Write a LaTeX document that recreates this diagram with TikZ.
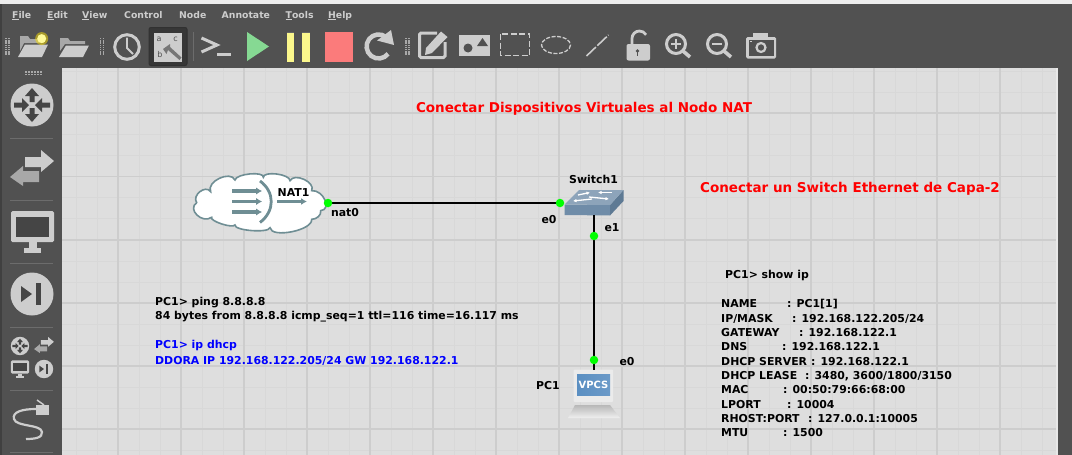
\documentclass[tikz,border=0pt]{standalone}
\usepackage{fontspec}
\setmainfont{DejaVu Sans}
\usetikzlibrary{arrows.meta}
\definecolor{panel}{HTML}{515151}
\definecolor{canvasbg}{HTML}{DEDEDE}
\definecolor{gridminor}{HTML}{D8D8D8}
\definecolor{gridmajor}{HTML}{CDCDCD}
\definecolor{icon}{HTML}{CDCDCD}
\definecolor{icondark}{HTML}{A8A8A8}
\definecolor{cloudline}{HTML}{6F8E94}
\definecolor{swtop}{HTML}{8DA4BA}
\definecolor{swfront}{HTML}{6F8CA8}
\definecolor{swside}{HTML}{5E7A94}
\definecolor{pcblue}{HTML}{5B8FC2}
\definecolor{playgreen}{HTML}{86D993}
\definecolor{pauseyellow}{HTML}{FBF78C}
\definecolor{stopred}{HTML}{FB7B7B}
\newcommand{\infoline}[3]{\makebox[#2pt][l]{#1}: #3}
\begin{document}
\begin{tikzpicture}
    [
        x=1pt, y=-1pt,
        menu/.style = {anchor=west, text=icon, font=\bfseries\fontsize{9.3}{10}\selectfont, inner sep=0pt},
        title/.style = {text=red, font=\bfseries\fontsize{13.5}{15}\selectfont, inner sep=0pt},
        note/.style = {anchor=north west, align=left, inner sep=0pt, font=\bfseries\fontsize{10.9}{14.3}\selectfont},
        lbl/.style = {inner sep=0pt, font=\bfseries\fontsize{10.9}{12}\selectfont},
        port/.style = {circle, fill=green, draw=none, minimum size=8.5pt, inner sep=0pt},
        link/.style = {line width=1.6pt, black},
        sep/.style = {draw=gray!85!black, line width=0.7pt},
        iconline/.style = {draw=icon, line width=3pt},
        dashicon/.style = {draw=icon, line width=1.6pt, dash pattern=on 6pt off 2.5pt},
        routerpic/.pic = {
            \fill[icon] (0,0) circle (21.5);
            \fill[panel!85!black] (0,-17) -- (7,-9) -- (2.5,-9) -- (2.5,-3) -- (-2.5,-3) -- (-2.5,-9) -- (-7,-9) -- cycle;
            \fill[panel!85!black] (0,17) -- (7,9) -- (2.5,9) -- (2.5,3) -- (-2.5,3) -- (-2.5,9) -- (-7,9) -- cycle;
            \fill[panel!85!black] (-3,0) -- (-10,-7) -- (-10,-2.5) -- (-18,-2.5) -- (-18,2.5) -- (-10,2.5) -- (-10,7) -- cycle;
            \fill[panel!85!black] (3,0) -- (10,-7) -- (10,-2.5) -- (18,-2.5) -- (18,2.5) -- (10,2.5) -- (10,7) -- cycle;
        },
        swappic/.pic = {
            \fill[icon] (-7,-11) -- (9,-11) -- (9,-18) -- (22,-7) -- (9,4) -- (9,-1) -- (-7,-1) -- cycle;
            \fill[icondark] (-22,9) -- (-9,-2) -- (-9,3) -- (7,3) -- (7,14) -- (-9,14) -- (-9,18) -- cycle;
        },
        monitorpic/.pic = {
            \fill[icon, rounded corners=1.5pt] (-21.5,-18) rectangle (21.5,13);
            \fill[panel!85!black] (-16.5,-12) rectangle (16.5,8);
            \fill[icon] (-4,13) rectangle (4,19);
            \fill[icon] (-8.5,19) rectangle (8.5,24);
        },
        steppic/.pic = {
            \fill[icon] (0,0) circle (21.5);
            \fill[panel!85!black] (-11,-8) -- (0,0) -- (-11,8) -- cycle;
            \fill[panel!85!black] (4,-11) rectangle (9,11);
        },
    ]

    \useasboundingbox (0,0) rectangle (1072,455);

    % window
    \fill[panel] (0,0) rectangle (1072,455);
    \fill[black!75] (0,0) rectangle (2,455);
    \fill[white!93!black] (0,0) rectangle (1072,4);
    \fill[canvasbg] (62,68) rectangle (1056,455);
    \fill[gridminor!60!white] (1056,68) rectangle (1058,455);

    % grid
    \foreach \gx in {76,97,139,160,202,223,265,286,328,349,391,412,454,475,517,538,580,601,643,664,706,727,769,790,832,853,895,916,958,979,1021,1042}
        \draw[gridminor, line width=0.8pt] (\gx,68) -- (\gx,455);
    \foreach \gy in {71,92,134,155,197,218,261,282,324,345,387,408,450}
        \draw[gridminor, line width=0.8pt] (62,\gy) -- (1056,\gy);
    \foreach \gx in {118,181,244,307,370,433,496,559,622,685,748,811,874,937,1000}
        \draw[gridmajor, line width=1.1pt] (\gx,68) -- (\gx,455);
    \foreach \gy in {113,176.5,240,303,366,429}
        \draw[gridmajor, line width=1.1pt] (62,\gy) -- (1056,\gy);

    % menu
    \node[menu] (mfile) at (12,15.5) {\underline{F}ile};
    \node[menu] (medit) at (47,15.5) {\underline{E}dit};
    \node[menu] (mview) at (82,15.5) {\underline{V}iew};
    \node[menu] (mcontrol) at (124,15.5) {Control};
    \node[menu] (mnode) at (179,15.5) {Node};
    \node[menu] (mannotate) at (221.5,15.5) {Annotate};
    \node[menu] (mtools) at (285.5,15.5) {\underline{T}ools};
    \node[menu] (mhelp) at (328,15.5) {\underline{H}elp};

    % toolbar
    \foreach \gripx in {5,99.5,405}
        \foreach \i in {0,1}
            \foreach \j in {0,1,2,3,4,5,6,7}
                \fill[icondark] (\gripx+\i*3,38+\j*2.2) rectangle +(1.6,1.4);
    \foreach \i in {0,...,5}
        \foreach \j in {0,1}
            \fill[icondark] (25+\i*3,71+\j*2.5) rectangle +(1.8,1.6);

    \fill[icondark] (20,51) -- (20,36) -- (28,36) -- (30,39) -- (44,39) -- (44,43) -- (24,43) -- cycle;
    \fill[icon] (25,44.5) -- (48,44.5) -- (42,57) -- (18,57) -- cycle;
    \fill[yellow!85!orange, opacity=.5] (41.7,38.6) circle (6.5);
    \fill[yellow!40!white] (41.7,38.6) circle (4.5);
    \fill[icondark] (60,51) -- (60,38) -- (68,38) -- (70,41) -- (85,41) -- (85,44) -- (65,44) -- cycle;
    \fill[icon] (66,45.5) -- (89,45.5) -- (83,57) -- (59,57) -- cycle;

    \draw[iconline] (127,47) circle (12.3);
    \draw[draw=icon, line width=1.8pt] (127,37.5) -- (127,48) -- (133,54);

    \draw[fill=panel!115!white, draw=black!40!panel, line width=1pt, rounded corners=2pt] (149,27.5) rectangle (187,65.5);
    \fill[icon] (154,33) rectangle (182,61.5);
    \node[inner sep=0pt, font=\fontsize{8}{8}\selectfont, text=panel] (la) at (159,39) {a};
    \node[inner sep=0pt, font=\fontsize{8}{8}\selectfont, text=panel] (lb) at (160,55) {b};
    \node[inner sep=0pt, font=\fontsize{8}{8}\selectfont, text=panel] (lc) at (175.5,39) {c};
    \fill[icondark!70!black] (163,49) -- (170,44) -- (170,47) -- (181.5,57.5) -- (179.5,60) -- (168,50) -- (166.5,54) -- cycle;

    \draw[sep] (193,32) -- (193,61);

    \draw[draw=icon, line width=3pt] (201.5,38) -- (217,45) -- (201.5,52);
    \draw[draw=icon, line width=3pt] (217,54.5) -- (231,54.5);

    \fill[playgreen] (247,32) -- (269,46.5) -- (247,61) -- cycle;
    \fill[pauseyellow] (286.5,32) rectangle (294,61.5);
    \fill[pauseyellow] (302,32) rectangle (310,61.5);
    \fill[black!60] (286.5,31.5) rectangle (294,32.5);
    \fill[black!60] (302,31.5) rectangle (310,32.5);
    \fill[stopred] (325,32) rectangle (353,61.5);

    \draw[iconline, line width=4.5pt] (386,37) arc[start angle=52, end angle=322, x radius=12, y radius=-12];
    \fill[icon] (377,40.5) -- (391,30) -- (394,45) -- cycle;

    \draw[iconline, rounded corners=1.5pt] (445,42) -- (445,57.5) -- (419.5,57.5) -- (419.5,33) -- (437,33);
    \fill[icon] (426,48) -- (441,31.5) -- (447.5,37) -- (432,53) -- (425,55) -- cycle;

    \fill[icon] (459,35) rectangle (489.5,56);
    \fill[panel] (468,48) circle (4.5);
    \fill[panel] (477,46) -- (482.5,38) -- (488,46) -- cycle;

    \draw[dashicon] (500.5,34) rectangle (529.5,55.5);
    \draw[dashicon, dash pattern=on 4pt off 1.6pt, line width=1.3pt] (556,45) ellipse (14.5 and 8.5);
    \draw[dashicon, dash pattern=on 13pt off 2pt] (586.5,56) -- (608.5,35);

    \fill[icon, rounded corners=2pt] (626.5,44) rectangle (650,60.5);
    \draw[iconline, line width=2.8pt] (632,44) -- (632,38.5) arc[start angle=180, end angle=30, x radius=7.5, y radius=-7.5];
    \fill[panel] (637.5,51) circle (1.8);
    \fill[panel] (636.8,51) rectangle (638.2,56);

    \draw[iconline] (676,44) circle (9.5);
    \draw[iconline, line width=3.6pt] (683,51) -- (690,57);
    \draw[draw=icon, line width=2pt] (671,44) -- (681,44);
    \draw[draw=icon, line width=2pt] (676,39) -- (676,49);
    \draw[iconline] (717,44) circle (9.5);
    \draw[iconline, line width=3.6pt] (724,51) -- (731,57);
    \draw[draw=icon, line width=2pt] (712,44) -- (722,44);

    \fill[icon, rounded corners=1.5pt] (746,37) rectangle (776,58.5);
    \fill[icon] (753,33) rectangle (768,38);
    \fill[panel] (748.5,39.5) rectangle (773.5,56);
    \draw[iconline, line width=2.2pt] (761,47.5) circle (4.5);
    \fill[icon] (750,40.5) rectangle (752,42);

    % side panel
    \foreach \sepy in {138,200,263,327,390,452}
        \draw[sep] (10,\sepy) -- (53,\sepy);
    \pic at (32,105) {routerpic};
    \pic at (32,168) {swappic};
    \pic at (32.5,229) {monitorpic};
    \pic at (32,294) {steppic};
    \pic[scale=.43] at (20,346) {routerpic};
    \pic[scale=.45] at (44,345) {swappic};
    \pic[scale=.43] at (20,368) {monitorpic};
    \pic[scale=.43] at (44,369) {steppic};
    \fill[icon] (36,405) rectangle (49,415);
    \draw[draw=icon, line width=1.5pt] (37,400) -- (44,405);
    \draw[draw=icon, line width=2.2pt] (36,409) .. controls (22,409) and (12,412) .. (14,419) .. controls (16,427) and (41,424) .. (42,432) .. controls (43,438) and (34,439) .. (26,439);

    % cloud
    \begin{scope}[shift={(180,160)}, x=0.3333pt, y=-0.3333pt]
        \draw[draw=cloudline, fill=white, line width=1.6pt] (50,128)
            .. controls (35,106) and (77,73) .. (92,95)
            .. controls (78,65) and (151,30) .. (165,60)
            .. controls (168,41) and (253,33) .. (250,52)
            .. controls (250,32) and (330,42) .. (330,62)
            .. controls (343,37) and (408,67) .. (395,92)
            .. controls (430,89) and (457,149) .. (422,152)
            .. controls (425,165) and (410,178) .. (395,178)
            .. controls (399,211) and (274,236) .. (270,203)
            .. controls (267,220) and (162,212) .. (165,195)
            .. controls (158,206) and (88,183) .. (95,172)
            .. controls (66,192) and (21,148) .. (50,128) -- cycle;
    \end{scope}
    \foreach \ay in {191,201.5,212}
        \draw[cloudline, line width=3.2pt, -{Latex[length=6pt,width=7.5pt]}] (232,\ay) -- (262,\ay);
    \draw[cloudline, line width=2.8pt] (260,181) .. controls (275,192) and (275,211) .. (260,222.5);
    \draw[cloudline, line width=2.4pt, -{Latex[length=6pt,width=7pt]}] (277,201.5) -- (307,201.5);
    \node[lbl] (natname) at (293.5,192.5) {NAT1};

    % switch
    \fill[swfront] (564.5,204.5) -- (610,205) -- (610,215.5) -- (564.5,215) -- cycle;
    \fill[swside] (610,205) -- (623.5,190) -- (623.5,201) -- (610,215.5) -- cycle;
    \fill[swtop] (564.5,204.5) -- (579,190) -- (623.5,190) -- (610,205) -- cycle;
    \draw[white, line width=1.3pt, -{Latex[length=3.5pt,width=3.5pt]}] (578,195) -- (590,192.5);
    \draw[white, line width=1.3pt, -{Latex[length=3.5pt,width=3.5pt]}] (612,192.5) -- (598,192.5);
    \draw[white, line width=1.3pt, -{Latex[length=3.5pt,width=3.5pt]}] (592,199) -- (573,201);
    \draw[white, line width=1.3pt, -{Latex[length=3.5pt,width=3.5pt]}] (589,197) -- (609,199);
    \coordinate (swleft) at (562,203);
    \coordinate (swbottom) at (594,215);
    \node[lbl] (swname) at (593.5,179) {Switch1};

    % pc
    \shade[top color=black!28, bottom color=black!6] (575,405) -- (610,405) -- (620,418) -- (568,418) -- cycle;
    \fill[white!92!black, rounded corners=1pt] (573.5,369.5) rectangle (613,402);
    \shade[left color=pcblue, right color=pcblue!90!white] (577,374.5) rectangle (610,395);
    \node[inner sep=0pt, text=white, font=\bfseries\fontsize{10}{10}\selectfont] (vpcs) at (593.5,385) {VPCS};
    \coordinate (pctop) at (594,370);
    \node[lbl] (pcname) at (548,386) {PC1};

    % ports
    \coordinate (natport) at (328,203);
    \draw[link] (natport) -- (swleft);
    \draw[link] (swbottom) -- (pctop);
    \node[port] (p0) at (natport) {};
    \node[port] (p1) at (560,203) {};
    \node[port] (p2) at (594,236) {};
    \node[port] (p3) at (594,360) {};
    \node[lbl] (l0) at (345,213) {nat0};
    \node[lbl] (l1) at (549,220) {e0};
    \node[lbl] (l2) at (612,228) {e1};
    \node[lbl] (l3) at (627,362) {e0};

    % annotations
    \node[title] (t0) at (584,109) {Conectar Dispositivos Virtuales al Nodo NAT};
    \node[title] (t1) at (850,188.5) {Conectar un Switch Ethernet de Capa-2};

    \node[note] (ping) at (155,297) {PC1> ping 8.8.8.8\\84 bytes from 8.8.8.8 icmp\_seq=1 ttl=116 time=16.117 ms};
    \node[note, text=blue] (dhcp) at (155,340) {PC1> ip dhcp\\[1.5pt]DDORA IP 192.168.122.205/24 GW 192.168.122.1};

    \node[note] (show) at (725,270) {PC1> show ip};
    \node[note] (info) at (721,299.5) {%
        \infoline{NAME}{66}{PC1[1]}\\
        \infoline{IP/MASK}{71}{192.168.122.205/24}\\
        \infoline{GATEWAY}{78}{192.168.122.1}\\
        \infoline{DNS}{61}{192.168.122.1}\\
        \infoline{DHCP SERVER}{90}{192.168.122.1}\\
        \infoline{DHCP LEASE}{84}{3480, 3600/1800/3150}\\
        \infoline{MAC}{62}{00:50:79:66:68:00}\\
        \infoline{LPORT}{66}{10004}\\
        \infoline{RHOST:PORT}{87}{127.0.0.1:10005}\\
        \infoline{MTU}{62}{1500}};
\end{tikzpicture}
\end{document}
